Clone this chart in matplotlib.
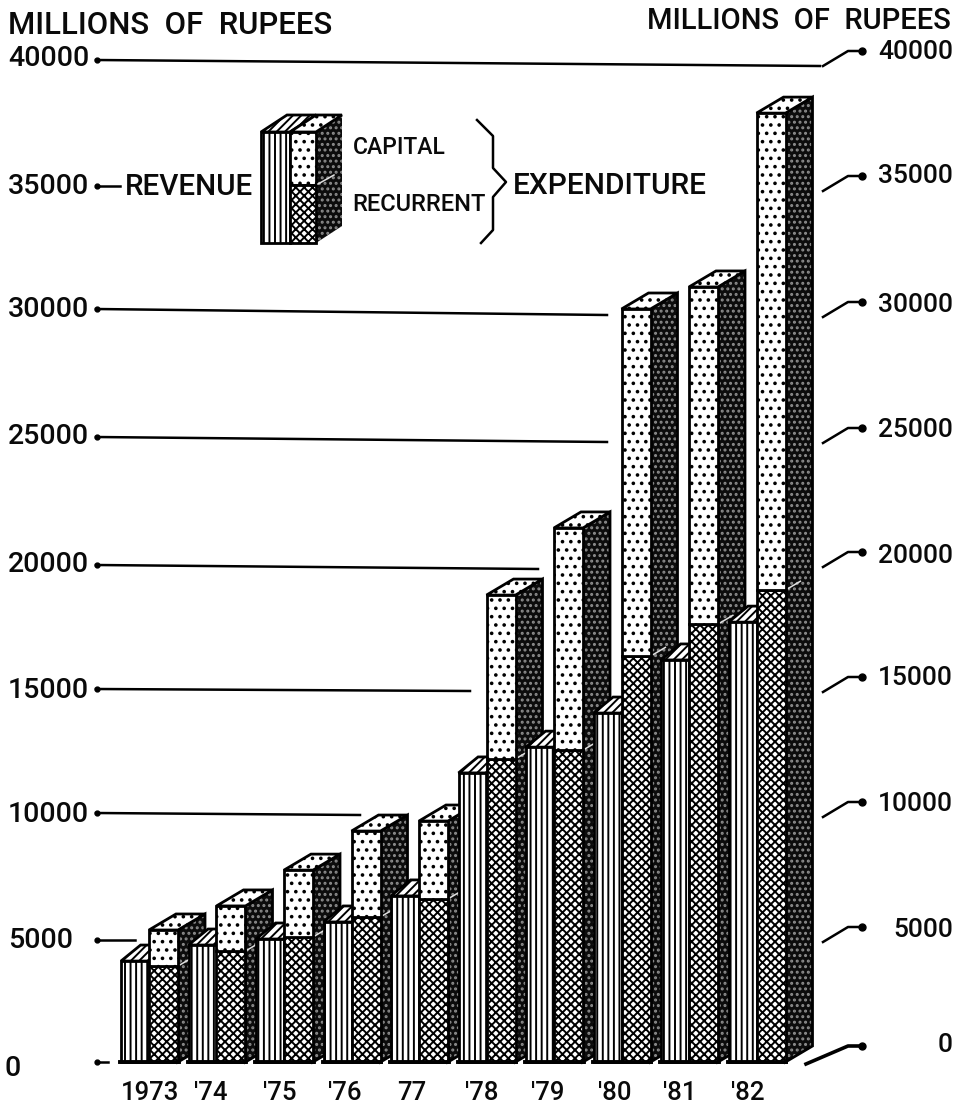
import matplotlib
matplotlib.use("Agg")
import matplotlib.pyplot as plt
from matplotlib.patches import Polygon

years = ["1973", "'74", "'75", "'76", "77", "'78", "'79", "'80", "'81", "'82"]
revenue = [4030, 4670, 4910, 5590, 6630, 11540, 12570, 13930, 16050, 17560]
recurrent = [3830, 4430, 4990, 5790, 6510, 12100, 12450, 16200, 17480, 18840]
total_exp = [5270, 6230, 7660, 9220, 9620, 18640, 21320, 30060, 30940, 37880]
left_ticks = [40000, 35000, 30000, 25000, 20000, 15000, 10000, 5000, 0]
left_line_end = [820, 120, 607, 607, 538, 470, 360, 135, 108]

plt.rcParams['font.family'] = ['Roboto', 'DejaVu Sans']
plt.rcParams['font.weight'] = 'medium'
plt.rcParams['hatch.linewidth'] = 1.4

W, H = 965, 1110
fig = plt.figure(figsize=(W / 100, H / 100), dpi=100)
ax = fig.add_axes([0, 0, 1, 1])
GROUP = 67.5
X0 = 121
Y0 = 1062
SCALE = 40000 / 1002


def ix(p):
    return (p - X0) / GROUP


def iy(p):
    return (Y0 - p) * SCALE


ax.set_xlim(ix(0), ix(W))
ax.set_ylim(iy(H), iy(0))
ax.axis('off')

BW1 = 28 / GROUP
BW2 = 29 / GROUP
DX = 27 / GROUP
DY = 16 * SCALE
DARK = '#0c0c0c'
SPECK = '#8c8c8c'
K = 'black'
TXT = '#0a0a0a'


def poly(pts, fc='white', ec=K, hatch=None, lw=2.0, z=2.0):
    ax.add_patch(Polygon(pts, closed=True, facecolor=fc, edgecolor=ec, hatch=hatch, lw=lw, zorder=z))


def side(xr, vb, vt, z):
    pts = [(xr, vb), (xr + DX, vb + DY), (xr + DX, vt + DY), (xr, vt)]
    poly(pts, fc=DARK, ec=SPECK, hatch='...', lw=0, z=z)
    poly(pts, fc='none', ec=K, lw=2.0, z=z + 0.001)


for i, yr in enumerate(years):
    z = 2 + i * 0.1
    x1 = i
    x2 = i + BW1
    x3 = x2 + BW2
    rv, rc, tt = revenue[i], recurrent[i], total_exp[i]
    # revenue top
    poly([(x1, rv), (x2, rv), (x2 + BW1 * 0.7, rv + DY), (x1 + BW1 * 0.7, rv + DY)],
         hatch='////', z=z)
    # expenditure side and top
    side(x3, 0, tt, z + 0.01)
    ax.plot([x3, x3 + DX * 0.55], [rc, rc + DY * 0.55], color='#e0e0e0', lw=1.1, zorder=z + 0.02)
    poly([(x2, tt), (x3, tt), (x3 + DX, tt + DY), (x2 + DX, tt + DY)], hatch='..', z=z + 0.03)
    # fronts
    ax.bar(x1 + BW1 / 2, rv, BW1, color='white', edgecolor=K, hatch='|||', lw=2.0, zorder=z + 0.04)
    ax.bar(x2 + BW2 / 2, rc, BW2, color='white', edgecolor=K, hatch='xxxx', lw=2.0, zorder=z + 0.05)
    ax.bar(x2 + BW2 / 2, tt - rc, BW2, bottom=rc, color='white', edgecolor=K, hatch='..', lw=2.0, zorder=z + 0.05)
    ax.plot([x1 - 0.01, x3 + 0.01], [0, 0], color=K, lw=2.8, zorder=z + 0.06)

# left ticks and lines
left_y = [60, 186, 309, 437, 565, 689, 813, 940, 1062]
left_y2 = [66, 186, 315, 442, 569, 691, 815, 940, 1062]
left_ty = [58, 187, 310, 437, 565, 690, 814, 940, 1068]
for v, e, p, p2, tp in zip(left_ticks, left_line_end, left_y, left_y2, left_ty):
    ax.plot([ix(96), ix(e)], [iy(p), iy(p2)], color=K, lw=1.8, zorder=1.5)
    ax.plot([ix(97)], [iy(p)], 'o', color=K, ms=3.5, zorder=1.5)
    ax.text(ix(8 if v else 5), iy(tp), str(v), fontsize=20.5, va='center', ha='left', color=TXT)

# right ticks
right_y = [51, 176, 302, 428, 552, 677, 802, 927, 1046]
right_ty = [52, 176, 305, 430, 556, 678, 804, 930, 1045]
for v, p, tp in zip(left_ticks, right_y, right_ty):
    rise = 15 if v else 18
    start = 823 if v else 806
    ax.plot([ix(start), ix(848), ix(862)], [iy(p + rise), iy(p), iy(p)], color=K,
            lw=1.8 if v else 2.6, zorder=1.5)
    ax.plot([ix(862)], [iy(p)], 'o', color=K, ms=5, zorder=1.5)
    ax.text(ix(953), iy(tp), str(v), fontsize=19, va='center', ha='right', color=TXT)

# titles
ax.text(ix(8), iy(26), 'MILLIONS  OF  RUPEES', fontsize=22.4, va='center', ha='left', color=TXT)
ax.text(ix(951), iy(21), 'MILLIONS  OF  RUPEES', fontsize=21, va='center', ha='right', color=TXT)

# year labels
year_x = [150, 211, 280, 345, 412, 482, 548, 615, 680, 748]
for lbl, px in zip(years, year_x):
    ax.text(ix(px), iy(1093), lbl, fontsize=18.5, va='center', ha='center', color=TXT)

# legend key
lx = [261, 290, 316, 342]
ly_top, ly_mid, ly_bot = 132, 185, 243
rise = 17
poly([(ix(lx[2]), iy(ly_bot)), (ix(lx[3]), iy(ly_bot - rise)), (ix(lx[3]), iy(ly_top - rise)), (ix(lx[2]), iy(ly_top))],
     fc=DARK, ec=SPECK, hatch='...', lw=0, z=3.5)
poly([(ix(lx[0]), iy(ly_top)), (ix(lx[1]), iy(ly_top)), (ix(lx[1] + 26), iy(ly_top - rise)), (ix(lx[0] + 26), iy(ly_top - rise))],
     hatch='////', z=3.5)
poly([(ix(lx[1]), iy(ly_top)), (ix(lx[2]), iy(ly_top)), (ix(lx[3]), iy(ly_top - rise)), (ix(lx[1] + 26), iy(ly_top - rise))],
     hatch='..', z=3.5)
poly([(ix(lx[0]), iy(ly_bot)), (ix(lx[1]), iy(ly_bot)), (ix(lx[1]), iy(ly_top)), (ix(lx[0]), iy(ly_top))], hatch='|||', z=3.6)
poly([(ix(lx[1]), iy(ly_mid)), (ix(lx[2]), iy(ly_mid)), (ix(lx[2]), iy(ly_top)), (ix(lx[1]), iy(ly_top))], hatch='..', z=3.6)
poly([(ix(lx[1]), iy(ly_bot)), (ix(lx[2]), iy(ly_bot)), (ix(lx[2]), iy(ly_mid)), (ix(lx[1]), iy(ly_mid))], hatch='xxxx', z=3.6)
ax.plot([ix(318), ix(334)], [iy(184), iy(175)], color='#e0e0e0', lw=1.1, zorder=3.7)

ax.text(ix(353), iy(148), 'CAPITAL', fontsize=16.5, va='center', ha='left', color=TXT)
ax.text(ix(352), iy(205), 'RECURRENT', fontsize=17, va='center', ha='left', color=TXT)
ax.text(ix(125), iy(187), 'REVENUE', fontsize=21.3, va='center', ha='left', color=TXT)
ax.text(ix(513), iy(186), 'EXPENDITURE', fontsize=21.5, va='center', ha='left', color=TXT)
brace_x = [477, 493, 493, 506, 493, 493, 481]
brace_y = [120, 136, 168, 182, 197, 230, 243]
ax.plot([ix(p) for p in brace_x], [iy(p) for p in brace_y], color=K, lw=1.8, zorder=3)

fig.savefig('out.png', dpi=100, facecolor='white')
